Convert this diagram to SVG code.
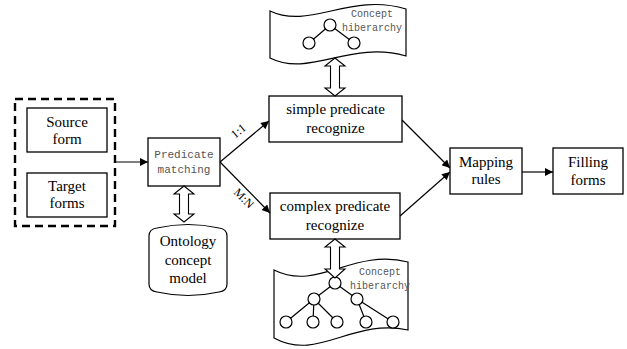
<svg xmlns="http://www.w3.org/2000/svg" width="627" height="349" viewBox="0 0 627 349">
  <style>
    .box { fill: #fff; stroke: #000; stroke-width: 1.3; }
    .shape { fill: #fff; stroke: #000; stroke-width: 1.2; }
    .dash { fill: none; stroke: #000; stroke-width: 2.4; stroke-dasharray: 8 5; }
    .edge { fill: none; stroke: #000; stroke-width: 1.2; marker-end: url(#arrow); }
    .tree { fill: none; stroke: #000; stroke-width: 1.2; }
    .node { fill: #fff; stroke: #000; stroke-width: 1.2; }
    .dbl { fill: #fff; stroke: #000; stroke-width: 1.1; }
    .t { font-family: "Liberation Serif", "Times New Roman", serif; font-size: 15px; fill: #000; text-anchor: middle; }
    .m { font-family: "Liberation Mono", "DejaVu Sans Mono", monospace; fill: #555; text-anchor: middle; }
    .lbl { font-family: "Liberation Serif", "Times New Roman", serif; font-size: 12px; fill: #000; text-anchor: middle; }
  </style>
  <defs>
    <marker id="arrow" viewBox="0 0 10 10" refX="10" refY="5" markerWidth="10" markerHeight="8" markerUnits="userSpaceOnUse" orient="auto">
      <path d="M0,0 L10,5 L0,10 Z" fill="#000"/>
    </marker>
  </defs>

  <!-- input forms -->
  <g id="forms-group">
    <rect class="dash" x="15" y="99" width="100" height="127"/>
  </g>
  <g id="source-form">
    <rect class="box" x="27" y="108" width="80" height="44"/>
    <text class="t" x="67" y="127">Source</text>
    <text class="t" x="67" y="144">form</text>
  </g>
  <g id="target-forms">
    <rect class="box" x="27" y="173" width="80" height="44"/>
    <text class="t" x="67" y="191">Target</text>
    <text class="t" x="67" y="208">forms</text>
  </g>

  <!-- predicate matching -->
  <g id="predicate-matching">
    <rect class="box" x="148" y="138" width="72" height="48"/>
    <text class="m" x="184" y="158" font-size="11">Predicate</text>
    <text class="m" x="184" y="173" font-size="11">matching</text>
  </g>

  <!-- ontology store -->
  <g id="ontology">
    <path class="shape" d="M149,236 Q149,229 157,228 Q188,221 219,228 Q227,229 227,236 L227,284 Q227,291 219,292 Q188,299 157,292 Q149,291 149,284 Z"/>
    <text class="t" x="188" y="246">Ontology</text>
    <text class="t" x="188" y="265">concept</text>
    <text class="t" x="188" y="283">model</text>
  </g>

  <!-- recognizers -->
  <g id="simple-predicate">
    <rect class="box" x="269" y="96" width="133" height="46"/>
    <text class="t" x="335.5" y="114">simple predicate</text>
    <text class="t" x="335.5" y="133">recognize</text>
  </g>
  <g id="complex-predicate">
    <rect class="box" x="270" y="193" width="130" height="46"/>
    <text class="t" x="335" y="211">complex predicate</text>
    <text class="t" x="335" y="230">recognize</text>
  </g>

  <!-- concept hierarchies -->
  <g id="concept-top">
    <path class="shape" d="M270,11 C310,30 350,-8 406,9 L406,56 C350,40 310,78 270,58 Z"/>
    <path class="tree" d="M330,25 L309,43 M330,25 L354,43"/>
    <circle class="node" cx="330" cy="25" r="6"/>
    <circle class="node" cx="309" cy="43" r="6"/>
    <circle class="node" cx="354" cy="43" r="6"/>
    <text class="m" x="372" y="17" font-size="10">Concept</text>
    <text class="m" x="372" y="31" font-size="10">hiberarchy</text>
  </g>
  <g id="concept-bottom">
    <path class="shape" d="M274,270 C318,292 352,248 408,262 L408,330 C352,318 318,362 274,338 Z"/>
    <path class="tree" d="M335,283 L314,299 M335,283 L357,299 M314,299 L286,322 M314,299 L313,322 M314,299 L337,322 M357,299 L366,322 M357,299 L393,322"/>
    <circle class="node" cx="335" cy="283" r="6"/>
    <circle class="node" cx="314" cy="299" r="6"/>
    <circle class="node" cx="357" cy="299" r="6"/>
    <circle class="node" cx="286" cy="322" r="6"/>
    <circle class="node" cx="313" cy="322" r="6"/>
    <circle class="node" cx="337" cy="322" r="6"/>
    <circle class="node" cx="366" cy="322" r="6"/>
    <circle class="node" cx="393" cy="322" r="6"/>
    <text class="m" x="380" y="275" font-size="10">Concept</text>
    <text class="m" x="380" y="289" font-size="10">hiberarchy</text>
  </g>

  <!-- output side -->
  <g id="mapping-rules">
    <rect class="box" x="450" y="148" width="72" height="46"/>
    <text class="t" x="486" y="167">Mapping</text>
    <text class="t" x="486" y="184">rules</text>
  </g>
  <g id="filling-forms">
    <rect class="box" x="553" y="148" width="70" height="46"/>
    <text class="t" x="588" y="167" font-size="16">Filling</text>
    <text class="t" x="588" y="185" font-size="16">forms</text>
  </g>

  <!-- connectors -->
  <g id="connectors">
    <line class="edge" x1="115" y1="162" x2="148" y2="162"/>
    <line class="edge" x1="220" y1="162" x2="269" y2="121"/>
    <line class="edge" x1="220" y1="162" x2="270" y2="213"/>
    <line class="edge" x1="402" y1="120" x2="450" y2="168"/>
    <line class="edge" x1="400" y1="216" x2="450" y2="172"/>
    <line class="edge" x1="522" y1="172" x2="553" y2="172"/>
    <text class="lbl" transform="translate(241,134) rotate(-40)">1:1</text>
    <text class="lbl" transform="translate(241,201) rotate(45)">M:N</text>
    <!-- two-way hollow arrows -->
    <polygon class="dbl" points="184,186 194,194 188.5,194 188.5,214 194,214 184,222 174,214 179.5,214 179.5,194 174,194"/>
    <polygon class="dbl" points="335,58 345,66 339.5,66 339.5,88 345,88 335,96 325,88 330.5,88 330.5,66 325,66"/>
    <polygon class="dbl" points="335,239 345,247 339.5,247 339.5,269 345,269 335,278 325,269 330.5,269 330.5,247 325,247"/>
  </g>
</svg>
